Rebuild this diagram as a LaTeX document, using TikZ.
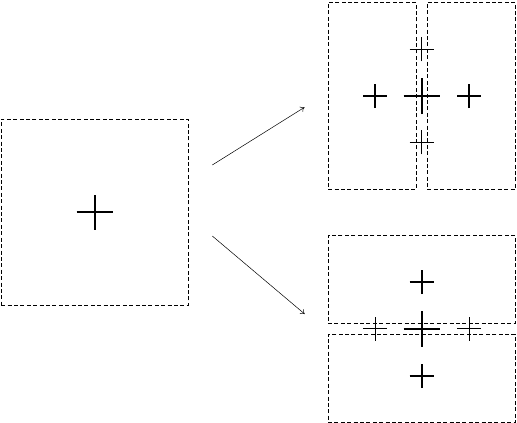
\documentclass[tikz,border=0pt]{standalone}
\usetikzlibrary{arrows.meta}
\begin{document}
\begin{tikzpicture}[x=1pt,y=-1pt,
  box/.style={draw,dash pattern=on 4pt off 2.4pt,line width=0.8pt,inner sep=0pt,outer sep=0pt},
  bigcross/.style={line width=1.7pt},
  thincross/.style={line width=0.7pt},
  conn/.style={line width=0.5pt,-{To[length=4pt,width=6pt]}}]
\useasboundingbox (0,0) rectangle (517,423);
% boxes
\node[box,minimum width=187pt,minimum height=186pt] (L) at (94.7,212.3) {};
\node[box,minimum width=88pt,minimum height=187pt] (TA) at (372.2,95.8) {};
\node[box,minimum width=88pt,minimum height=187pt] (TB) at (471.3,95.8) {};
\node[box,minimum width=187.3pt,minimum height=87.7pt] (BA) at (421.7,279.2) {};
\node[box,minimum width=187.3pt,minimum height=88pt] (BB) at (421.7,378.3) {};
% cross centres
\coordinate (cL) at (94.7,212.3);
\coordinate (cTA) at (375,96);
\coordinate (cTB) at (469,96);
\coordinate (cTM) at (421.7,96);
\coordinate (cTU) at (421.7,49.3);
\coordinate (cTD) at (421.7,142.3);
\coordinate (cBA) at (421.7,282);
\coordinate (cBB) at (421.7,376);
\coordinate (cBM) at (421.7,328.7);
\coordinate (cBL) at (375,328.7);
\coordinate (cBR) at (469,328.7);
% crosses
\draw[bigcross] ([xshift=-18pt]cL) -- ([xshift=18pt]cL) ([yshift=-17.5pt]cL) -- ([yshift=17.5pt]cL);
\foreach \c in {cTA,cTB,cBA,cBB}
  \draw[bigcross] ([xshift=-12pt]\c) -- ([xshift=12pt]\c) ([yshift=-12pt]\c) -- ([yshift=12pt]\c);
\foreach \c in {cTM,cBM}
  \draw[bigcross] ([xshift=-18pt]\c) -- ([xshift=18pt]\c) ([yshift=-18pt]\c) -- ([yshift=18pt]\c);
\foreach \c in {cTU,cTD,cBL,cBR}
  \draw[thincross] ([xshift=-12pt]\c) -- ([xshift=12pt]\c) ([yshift=-12pt]\c) -- ([yshift=12pt]\c);
% arrows
\coordinate (a1s) at (212.3,165);
\coordinate (a1e) at (304.5,107.3);
\coordinate (a2s) at (212.3,236);
\coordinate (a2e) at (304.7,314);
\draw[conn] (a1s) -- (a1e);
\draw[conn] (a2s) -- (a2e);
\end{tikzpicture}
\end{document}
